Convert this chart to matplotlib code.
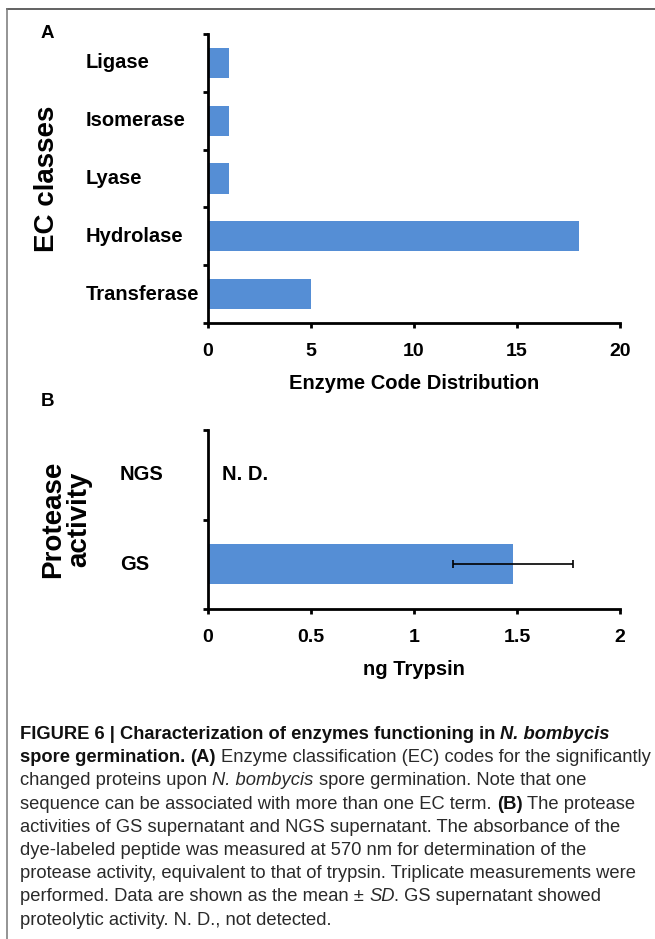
import matplotlib
matplotlib.use("Agg")
import matplotlib.pyplot as plt
import matplotlib.transforms as mtransforms
from matplotlib.lines import Line2D
import numpy as np

plt.rcParams['font.family'] = ['Liberation Sans', 'DejaVu Sans']
plt.rcParams['font.weight'] = 'bold'

# panel A: enzyme classes
ec_classes = ["Transferase", "Hydrolase", "Lyase", "Isomerase", "Ligase"]
ec_counts = [5, 18, 1, 1, 1]
ec_ticks = [0, 5, 10, 15, 20]

# panel B: protease activity (ng trypsin equivalent), NGS not detected
protease_groups = ["GS", "NGS"]
protease_mean = [1.48, np.nan]
protease_sd = [0.29, np.nan]
protease_ticks = [0, 0.5, 1, 1.5, 2]
nd_text = "N. D."

caption_lines = [
    [("FIGURE 6 | Characterization of enzymes functioning in ", "b"), ("N. bombycis", "bi")],
    [("spore germination. ", "b"), ("(A)", "b"), (" Enzyme classification (EC) codes for the significantly", "r")],
    [("changed proteins upon ", "r"), ("N. bombycis", "i"), (" spore germination. Note that one", "r")],
    [("sequence can be associated with more than one EC term. ", "r"), ("(B)", "b"), (" The protease", "r")],
    [("activities of GS supernatant and NGS supernatant. The absorbance of the", "r")],
    [("dye-labeled peptide was measured at 570 nm for determination of the", "r")],
    [("protease activity, equivalent to that of trypsin. Triplicate measurements were", "r")],
    [("performed. Data are shown as the mean \u00b1 ", "r"), ("SD", "i"), (". GS supernatant showed", "r")],
    [("proteolytic activity. N. D., not detected.", "r")],
]

BAR_COLOR = "#558ED5"
W, H = 655, 939

fig = plt.figure(figsize=(W / 100, H / 100), dpi=100)
fig.patch.set_facecolor("white")


def px_box(left, top, right, bottom):
    return [left / W, 1 - bottom / H, (right - left) / W, (bottom - top) / H]


def style_axes(ax, ticks, tick_fmt):
    for side in ("top", "right"):
        ax.spines[side].set_visible(False)
    for side in ("left", "bottom"):
        ax.spines[side].set_linewidth(2)
    ax.tick_params(axis="both", direction="out", length=3.5, width=2)
    ax.tick_params(axis="x", labelsize=14, pad=11)
    ax.set_xticks(ticks)
    ax.set_xticklabels([tick_fmt(t) for t in ticks])
    ax.set_xlim(ticks[0], ticks[-1])


def category_labels(ax, labels, x_px):
    trans = mtransforms.blended_transform_factory(fig.transFigure, ax.transData)
    for i, name in enumerate(labels):
        ax.text(x_px / W, i, name, transform=trans, ha="left", va="center",
                fontsize=14.5, fontweight="bold", clip_on=False)


# ---- panel A
axA = fig.add_axes(px_box(208, 34, 620, 323))
yA = np.arange(len(ec_classes))
axA.barh(yA, ec_counts, height=0.52, color=BAR_COLOR)
style_axes(axA, ec_ticks, lambda t: f"{t:g}")
axA.set_ylim(-0.5, len(ec_classes) - 0.5)
axA.set_yticks(np.arange(len(ec_classes) + 1) - 0.5)
axA.set_yticklabels([])
category_labels(axA, ec_classes, 86)
axA.set_xlabel("Enzyme Code Distribution", fontsize=14.5, fontweight="bold", labelpad=10)
axA.set_ylabel("EC classes", fontsize=20, fontweight="bold", va="center")
axA.yaxis.set_label_coords(-0.39, 0.5)

# ---- panel B
axB = fig.add_axes(px_box(208, 430, 620, 609))
yB = np.arange(len(protease_groups))
axB.barh(yB, np.nan_to_num(protease_mean), height=0.45, color=BAR_COLOR)
axB.errorbar(protease_mean, yB, xerr=protease_sd, fmt="none", ecolor="black",
             elinewidth=1.2, capsize=3, capthick=1.2)
style_axes(axB, protease_ticks, lambda t: f"{t:g}")
axB.set_ylim(-0.5, len(protease_groups) - 0.5)
axB.set_yticks(np.arange(len(protease_groups) + 1) - 0.5)
axB.set_yticklabels([])
category_labels(axB, protease_groups, 120)
for i, m in enumerate(protease_mean):
    if np.isnan(m):
        axB.text(0.07, i, nd_text, ha="left", va="center", fontsize=14.5, fontweight="bold")
axB.set_xlabel("ng Trypsin", fontsize=14.5, fontweight="bold", labelpad=10)
axB.set_ylabel("Protease\nactivity", fontsize=20, fontweight="bold", va="center",
               linespacing=1.0)
axB.yaxis.set_label_coords(-0.345, 0.5)

# panel letters
fig.text(47 / W, 1 - 33 / H, "A", ha="center", va="center", fontsize=13.5, fontweight="bold")
fig.text(47 / W, 1 - 401 / H, "B", ha="center", va="center", fontsize=13.5, fontweight="bold")

# frame lines
fig.add_artist(Line2D([7 / W, 1], [1 - 8.5 / H, 1 - 8.5 / H], transform=fig.transFigure,
                      color="#555555", lw=1.3))
fig.add_artist(Line2D([7 / W, 7 / W], [1 - 8.5 / H, 0], transform=fig.transFigure,
                      color="#777777", lw=1.1))

# ---- caption, drawn run by run so the fonts can change within a line
STYLES = {
    "r": dict(fontweight="normal", fontstyle="normal", color="#2a2a2a"),
    "i": dict(fontweight="normal", fontstyle="italic", color="#2a2a2a"),
    "b": dict(fontweight="bold", fontstyle="normal", color="#111111"),
    "bi": dict(fontweight="bold", fontstyle="italic", color="#111111"),
}
renderer = fig.canvas.get_renderer()
CAP_X = 20


def text_width(s, size, props):
    t = fig.text(0, 0, s, fontsize=size, **props)
    w = t.get_window_extent(renderer).width
    t.remove()
    return w


def draw_runs(y_px, runs, size, keep=True):
    x = CAP_X
    made = []
    for text, style in runs:
        props = STYLES[style]
        space = text_width("x x", size, props) - text_width("xx", size, props)
        lead = len(text) - len(text.lstrip(" "))
        trail = len(text) - len(text.rstrip(" "))
        x += lead * space
        t = fig.text(x / W, 1 - y_px / H, text.strip(" "), fontsize=size,
                     ha="left", va="baseline", **props)
        made.append(t)
        x += t.get_window_extent(renderer).width + trail * space
    if not keep:
        for t in made:
            t.remove()
    return x


# fit the font so the second line runs to the right edge
trial = 12
end = draw_runs(0, caption_lines[1], trial, keep=False)
cap_size = trial * (650 - CAP_X) / (end - CAP_X)

for i, runs in enumerate(caption_lines):
    draw_runs(739 + 23.2 * i, runs, cap_size)

fig.savefig("out.png", dpi=100, facecolor="white")
